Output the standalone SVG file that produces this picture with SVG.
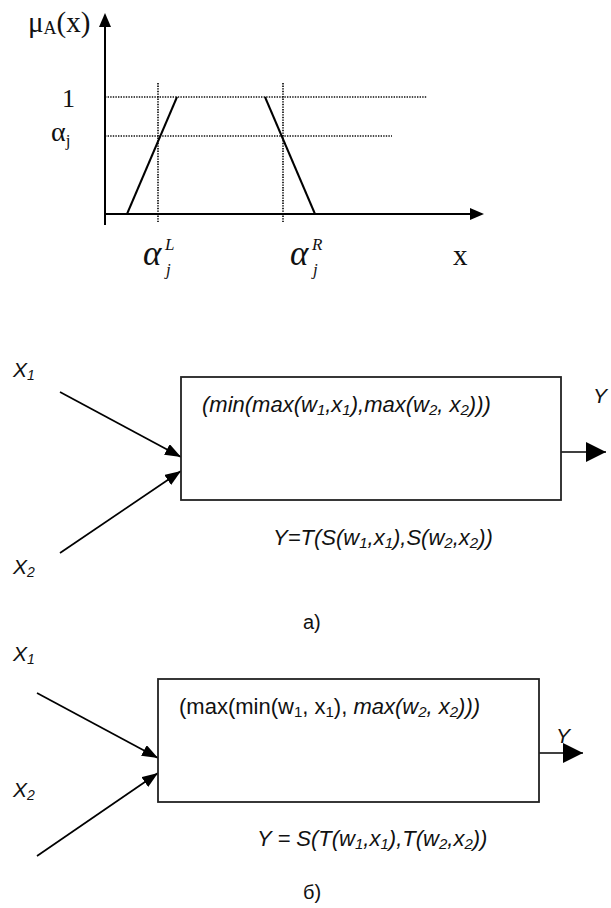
<svg xmlns="http://www.w3.org/2000/svg" width="611" height="908" viewBox="0 0 611 908">
<style>
.ln{stroke:#000;stroke-width:1.7;fill:none}
.ax{stroke:#000;stroke-width:2;fill:none}
.dot{stroke:#111;stroke-width:1.7;stroke-dasharray:1.4 1.2;fill:none}
.box{stroke:#222;stroke-width:1.8;fill:#fff}
.serif{font-family:"Liberation Serif","Times New Roman",serif;fill:#111}
.sans{font-family:"Liberation Sans",Arial,sans-serif;fill:#111}
.it{font-style:italic}
</style>
<defs>
<marker id="arr" markerUnits="userSpaceOnUse" markerWidth="16" markerHeight="12" refX="16" refY="6" orient="auto">
<path d="M0,0 L16,6 L0,12 z" fill="#000"/>
</marker>
<marker id="arrBig" markerUnits="userSpaceOnUse" markerWidth="20" markerHeight="20" refX="20" refY="10" orient="auto">
<path d="M0,0 L20,10 L0,20 z" fill="#000"/>
</marker>
</defs>

<g id="chart">
<line class="dot" x1="105" y1="97" x2="427" y2="97"/>
<line class="dot" x1="105" y1="136" x2="392" y2="136"/>
<line class="dot" x1="158" y1="83" x2="158" y2="222"/>
<line class="dot" x1="283" y1="83" x2="283" y2="222"/>
<line class="ax" x1="105" y1="225" x2="105" y2="25"/>
<polygon points="99,27 105,13 111,27" fill="#000"/>
<line class="ax" x1="105" y1="214" x2="471" y2="214"/>
<polygon points="470,208 484,214 470,220" fill="#000"/>
<polyline class="ln" points="127,214 177,97" style="stroke-width:2"/>
<polyline class="ln" points="265,97 315,214" style="stroke-width:2"/>
<text class="serif" x="28" y="32" font-size="29">μ<tspan font-size="18" dy="2">A</tspan><tspan dy="-2">(x)</tspan></text>
<text class="serif" x="62" y="107" font-size="26">1</text>
<text class="serif" x="51" y="141" font-size="28">α<tspan font-size="17" dy="5">j</tspan></text>
<text class="serif it" x="143" y="265" font-size="35">α</text>
<text class="serif it" x="165" y="250" font-size="17">L</text>
<text class="serif it" x="166" y="275" font-size="17">j</text>
<text class="serif it" x="290" y="265" font-size="35">α</text>
<text class="serif it" x="312" y="250" font-size="17">R</text>
<text class="serif it" x="313" y="275" font-size="17">j</text>
<text class="serif" x="453" y="265" font-size="29">x</text>
</g>

<g id="connectors">
<line class="ln" x1="60" y1="392" x2="181" y2="457" marker-end="url(#arr)"/>
<line class="ln" x1="60" y1="553" x2="181" y2="471" marker-end="url(#arr)"/>
<line class="ln" x1="561" y1="452" x2="606" y2="452" marker-end="url(#arrBig)"/>
<line class="ln" x1="37" y1="693" x2="158" y2="758" marker-end="url(#arr)"/>
<line class="ln" x1="37" y1="856" x2="158" y2="773" marker-end="url(#arr)"/>
<line class="ln" x1="539" y1="753" x2="583" y2="753" marker-end="url(#arrBig)"/>
</g>

<g id="inputs-a">
<text class="sans it" x="13" y="377" font-size="21">X<tspan font-size="14" dy="3">1</tspan></text>
<text class="sans it" x="13" y="574" font-size="21">X<tspan font-size="14" dy="3">2</tspan></text>
</g>

<g id="box-a">
<rect class="box" x="181" y="377" width="380" height="123"/>
<text class="sans it" x="202" y="412" font-size="22">(min(max(w<tspan font-size="15" dy="3">1</tspan><tspan dy="-3">,x</tspan><tspan font-size="15" dy="3">1</tspan><tspan dy="-3">),max(w</tspan><tspan font-size="15" dy="3">2</tspan><tspan dy="-3">, x</tspan><tspan font-size="15" dy="3">2</tspan><tspan dy="-3">)))</tspan></text>
</g>

<g id="output-a">
<text class="sans it" x="593" y="403" font-size="21">Y</text>
</g>

<text id="formula-a" class="sans it" x="273" y="545" font-size="22">Y=T(S(w<tspan font-size="15" dy="3">1</tspan><tspan dy="-3">,x</tspan><tspan font-size="15" dy="3">1</tspan><tspan dy="-3">),S(w</tspan><tspan font-size="15" dy="3">2</tspan><tspan dy="-3">,x</tspan><tspan font-size="15" dy="3">2</tspan><tspan dy="-3">))</tspan></text>

<text id="label-a" class="sans" x="303" y="629" font-size="20">а)</text>

<g id="inputs-b">
<text class="sans it" x="13" y="661" font-size="21">X<tspan font-size="14" dy="3">1</tspan></text>
<text class="sans it" x="13" y="797" font-size="21">X<tspan font-size="14" dy="3">2</tspan></text>
</g>

<g id="box-b">
<rect class="box" x="158" y="679" width="381" height="123"/>
<text class="sans" x="179" y="714" font-size="22">(max(min(w<tspan font-size="15" dy="3">1</tspan><tspan dy="-3">, x</tspan><tspan font-size="15" dy="3">1</tspan><tspan dy="-3">), </tspan><tspan font-style="italic">max(w</tspan><tspan font-style="italic" font-size="15" dy="3">2</tspan><tspan font-style="italic" dy="-3">, x</tspan><tspan font-style="italic" font-size="15" dy="3">2</tspan><tspan font-style="italic" dy="-3">)))</tspan></text>
</g>

<g id="output-b">
<text class="sans it" x="556" y="743" font-size="21">Y</text>
</g>

<text id="formula-b" class="sans it" x="257" y="846" font-size="22">Y = S(T(w<tspan font-size="15" dy="3">1</tspan><tspan dy="-3">,x</tspan><tspan font-size="15" dy="3">1</tspan><tspan dy="-3">),T(w</tspan><tspan font-size="15" dy="3">2</tspan><tspan dy="-3">,x</tspan><tspan font-size="15" dy="3">2</tspan><tspan dy="-3">))</tspan></text>

<text id="label-b" class="sans" x="303" y="899" font-size="20">б)</text>
</svg>
